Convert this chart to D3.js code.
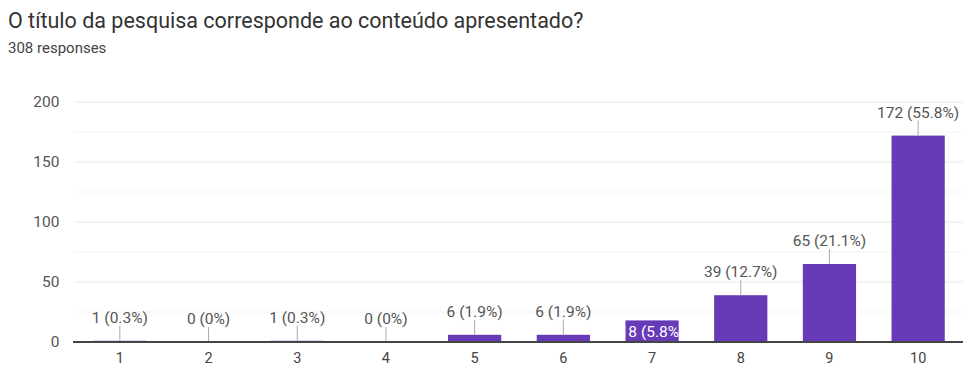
<!DOCTYPE html>
<html>
<head>
<meta charset="utf-8">
<script src="https://cdn.jsdelivr.net/npm/d3@7"></script>
<style>
  html, body { margin: 0; padding: 0; background: #fff; }
  svg { display: block; font-family: Roboto, Arial, sans-serif; }
</style>
</head>
<body>
<svg id="chart" width="963" height="367"></svg>
<script>
// Survey question and response count
const title = "O título da pesquisa corresponde ao conteúdo apresentado?";
const subtitle = "308 responses";

// Rating scale categories, counts and shares
const categories = ["1", "2", "3", "4", "5", "6", "7", "8", "9", "10"];
const counts = [1, 0, 1, 0, 6, 6, 18, 39, 65, 172];
const percents = ["0.3%", "0%", "0.3%", "0%", "1.9%", "1.9%", "5.8%", "12.7%", "21.1%", "55.8%"];
// Categories whose value label is drawn inside the bar
const insideLabels = ["7"];

// Y axis ticks
const yTicks = [0, 50, 100, 150, 200];
const yMinorTicks = [25, 75, 125, 175];

const svg = d3.select("#chart");
const W = 963, H = 367;
const margin = { left: 75.5, right: 0.5 };
const labelSize = 15.5;

svg.append("text")
  .attr("x", 8).attr("y", 28)
  .attr("fill", "#333")
  .attr("font-size", 21.5)
  .text(title);

svg.append("text")
  .attr("x", 8).attr("y", 53)
  .attr("fill", "#444")
  .attr("font-size", 15)
  .text(subtitle);

const x = d3.scaleBand()
  .domain(categories)
  .range([margin.left, W - margin.right])
  .paddingInner(0.4)
  .paddingOuter(0.2);

const y = d3.scaleLinear()
  .domain([0, 200])
  .range([342, 102]);

// Gridlines
svg.append("g").selectAll("line.minor")
  .data(yMinorTicks).join("line")
  .attr("x1", margin.left).attr("x2", W - margin.right)
  .attr("y1", d => y(d)).attr("y2", d => y(d))
  .attr("stroke", "#f3f3f3").attr("stroke-width", 1);

svg.append("g").selectAll("line.major")
  .data(yTicks.filter(d => d > 0)).join("line")
  .attr("x1", margin.left).attr("x2", W - margin.right)
  .attr("y1", d => y(d)).attr("y2", d => y(d))
  .attr("stroke", "#e6e6e6").attr("stroke-width", 1);

// Y axis labels
const yAxis = d3.axisLeft(y).tickValues(yTicks).tickSize(0).tickPadding(16);
const gy = svg.append("g")
  .attr("transform", `translate(${margin.left},0)`)
  .call(yAxis);
gy.select(".domain").remove();
gy.selectAll("text")
  .attr("font-family", "Roboto, Arial, sans-serif")
  .attr("font-size", labelSize)
  .attr("fill", "#555");

const data = categories.map((c, i) => ({ cat: c, value: counts[i], pct: percents[i] }));

// Bars
const defs = svg.append("defs");
svg.append("g").selectAll("rect")
  .data(data).join("rect")
  .attr("x", d => x(d.cat))
  .attr("width", x.bandwidth())
  .attr("y", d => y(d.value))
  .attr("height", d => y(0) - y(d.value))
  .attr("fill", "#673ab7");

// Leader lines and value labels above bars
const outside = data.filter(d => !insideLabels.includes(d.cat));
const cx = d => x(d.cat) + x.bandwidth() / 2;

svg.append("g").selectAll("line")
  .data(outside).join("line")
  .attr("x1", cx).attr("x2", cx)
  .attr("y1", d => y(d.value))
  .attr("y2", d => y(d.value) - 15)
  .attr("stroke", "#aaa").attr("stroke-width", 1);

svg.append("g").selectAll("text")
  .data(outside).join("text")
  .attr("x", cx)
  .attr("y", d => y(d.value) - 18)
  .attr("text-anchor", "middle")
  .attr("font-size", labelSize)
  .attr("fill", "#555")
  .text(d => `${d.value} (${d.pct})`);

// Labels drawn inside their bars, clipped to the bar
const inside = data.filter(d => insideLabels.includes(d.cat));
inside.forEach((d, i) => {
  defs.append("clipPath").attr("id", "clip" + i)
    .append("rect")
    .attr("x", x(d.cat)).attr("width", x.bandwidth())
    .attr("y", y(d.value)).attr("height", y(0) - y(d.value));
  svg.append("text")
    .attr("clip-path", `url(#clip${i})`)
    .attr("x", cx(d))
    .attr("y", (y(d.value) + y(0)) / 2 + 5.5)
    .attr("text-anchor", "middle")
    .attr("font-size", labelSize)
    .attr("fill", "#fff")
    .text(`${d.value} (${d.pct})`);
});

// Baseline
svg.append("line")
  .attr("x1", 73).attr("x2", W)
  .attr("y1", y(0)).attr("y2", y(0))
  .attr("stroke", "#444").attr("stroke-width", 2);

// X axis labels
const xAxis = d3.axisBottom(x).tickSize(0).tickPadding(0);
const gx = svg.append("g")
  .attr("transform", `translate(0,${y(0)})`)
  .call(xAxis);
gx.select(".domain").remove();
gx.selectAll("text")
  .attr("dy", null)
  .attr("y", 21)
  .attr("font-family", "Roboto, Arial, sans-serif")
  .attr("font-size", 14.5)
  .attr("fill", "#444");
</script>
</body>
</html>
